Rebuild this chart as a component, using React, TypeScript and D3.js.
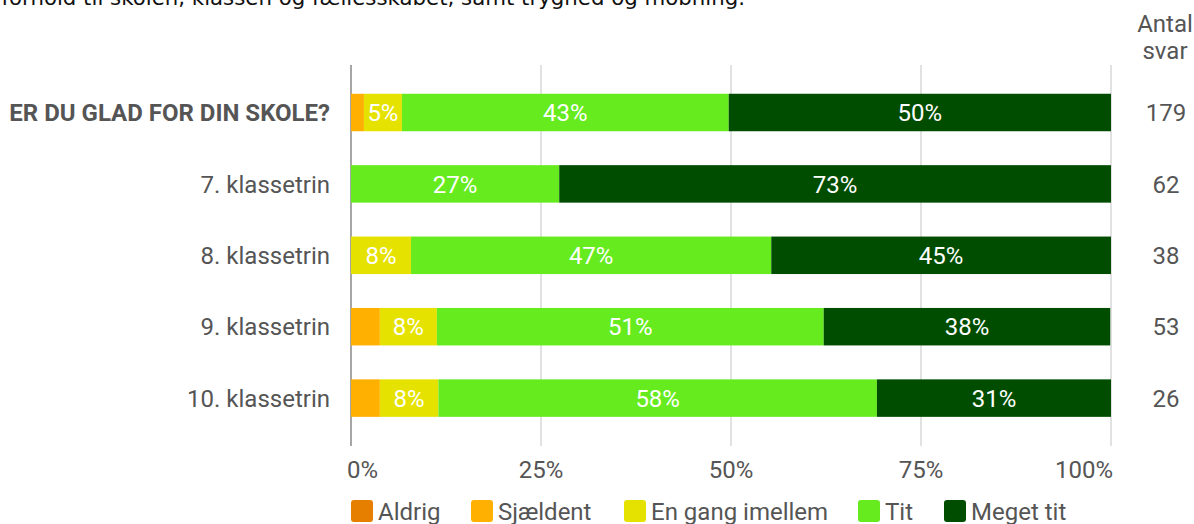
import React from "react";
import * as d3 from "d3";

const categories = ["ER DU GLAD FOR DIN SKOLE?", "7. klassetrin", "8. klassetrin", "9. klassetrin", "10. klassetrin"];
const counts = [179, 62, 38, 53, 26];
const seriesNames = ["Aldrig", "Sjældent", "En gang imellem", "Tit", "Meget tit"];
const seriesColors = ["#e67e00", "#ffb000", "#e6e200", "#66eb1f", "#004d00"];
const aldrig = [0, 0, 0, 0, 0];
const sjaeldent = [1.7, 0, 0, 3.8, 3.8];
const enGang = [5.0, 0, 7.9, 7.5, 7.7];
const tit = [43.0, 27.4, 47.4, 50.9, 57.7];
const megetTit = [50.3, 72.6, 44.7, 37.7, 30.8];
const ticks = [0, 25, 50, 75, 100];
const title = "forhold til skolen, klassen og fællesskabet, samt tryghed og mobning.";

const W = 1194;
const H = 524;

export default function App() {
  const x = d3.scaleLinear().domain([0, 100]).range([351, 1111]);
  const y = d3.scaleBand<string>().domain(categories).range([76.8, 433.8]).paddingInner(0.475).paddingOuter(0.2375);
  const series = [aldrig, sjaeldent, enGang, tit, megetTit];
  const rows = categories.map((c, i) => {
    const obj: any = { cat: c };
    seriesNames.forEach((s, j) => (obj[s] = series[j][i]));
    return obj;
  });
  const stacked = d3.stack<any>().keys(seriesNames)(rows);
  const font = "Roboto, sans-serif";
  const fs = 24;
  const legendX = [351, 471, 624, 858, 944];

  return (
    <svg width={W} height={H} style={{ position: "absolute", left: 0, top: 0, display: "block" }}>
      <rect width={W} height={H} fill="#fff" />
      <text x={745} y={5} textAnchor="end" fontFamily="DejaVu Sans, Verdana, sans-serif" fontSize={21.3} fill="#111">
        {title}
      </text>
      {ticks.map((t) => (
        <line key={t} x1={x(t)} x2={x(t)} y1={65} y2={446} stroke={t === 0 ? "#a6a6a6" : "#c4c4c4"} strokeWidth={t === 0 ? 2 : 1} />
      ))}
      {stacked.map((s, j) =>
        s.map((d, i) => {
          const w = x(d[1]) - x(d[0]);
          if (w <= 0) return null;
          return (
            <rect key={`${j}-${i}`} x={x(d[0])} y={y(categories[i])} width={w} height={y.bandwidth()} fill={seriesColors[j]} />
          );
        })
      )}
      {stacked.map((s, j) =>
        s.map((d, i) => {
          const v = d[1] - d[0];
          if (v < 4.5) return null;
          return (
            <text key={`l${j}-${i}`} x={(x(d[0]) + x(d[1])) / 2} y={(y(categories[i]) as number) + y.bandwidth() / 2} dy="0.36em" textAnchor="middle" fontFamily={font} fontSize={fs} fill="#fff">
              {`${Math.round(v)}%`}
            </text>
          );
        })
      )}
      {categories.map((c, i) => (
        <text key={c} x={330} y={(y(c) as number) + y.bandwidth() / 2} dy="0.36em" textAnchor="end" fontFamily={font} fontSize={fs} fontWeight={i === 0 ? 700 : 400} fill="#555">
          {c}
        </text>
      ))}
      {categories.map((c, i) => (
        <text key={`n${c}`} x={1166} y={(y(c) as number) + y.bandwidth() / 2} dy="0.36em" textAnchor="middle" fontFamily={font} fontSize={fs} fill="#555">
          {counts[i]}
        </text>
      ))}
      <text x={1165} y={32} textAnchor="middle" fontFamily={font} fontSize={fs} fill="#555">Antal</text>
      <text x={1165} y={59} textAnchor="middle" fontFamily={font} fontSize={fs} fill="#555">svar</text>
      {ticks.map((t, i) => (
        <text
          key={`t${t}`}
          x={i === 0 ? x(t) - 4 : i === ticks.length - 1 ? x(t) + 2 : x(t)}
          y={478}
          textAnchor={i === 0 ? "start" : i === ticks.length - 1 ? "end" : "middle"}
          fontFamily={font}
          fontSize={fs}
          fill="#555"
        >
          {`${t}%`}
        </text>
      ))}
      {seriesNames.map((s, j) => (
        <g key={s} transform={`translate(${legendX[j]},500)`}>
          <rect width={22} height={22} rx={3} fill={seriesColors[j]} />
          <text x={27} y={11} dy="0.36em" fontFamily={font} fontSize={fs} fill="#555">{s}</text>
        </g>
      ))}
    </svg>
  );
}
